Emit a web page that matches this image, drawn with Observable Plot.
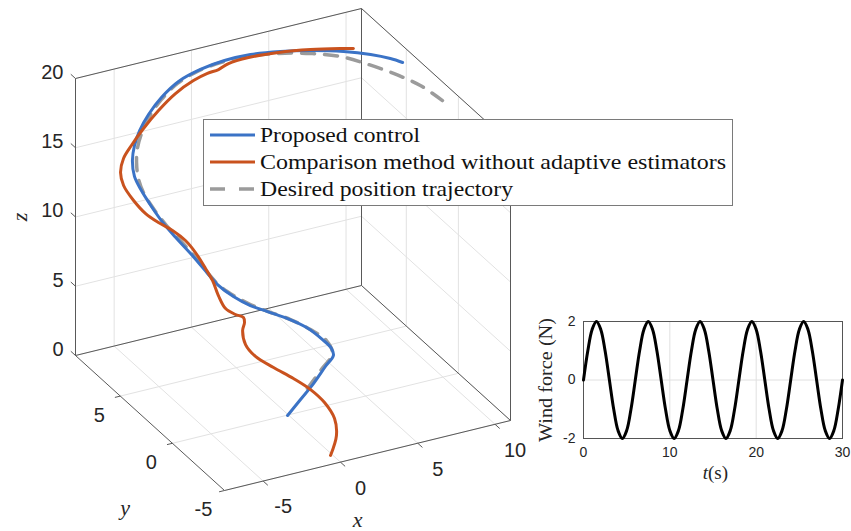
<!DOCTYPE html>
<html><head><meta charset="utf-8">
<script src="https://cdn.jsdelivr.net/npm/d3@7"></script>
<script src="https://cdn.jsdelivr.net/npm/@observablehq/plot@0.6"></script>
<style>
body{margin:0;background:#fff;}
#wrap{position:relative;width:851px;height:531px;overflow:hidden;background:#fff;}
#main,#inset{position:absolute;}
#main{left:0;top:0;}
#inset{left:530px;top:300px;}
</style></head><body>
<div id="wrap"><div id="main"></div><div id="inset"></div></div>
<script>
// ---------- data ----------
// axis limits and ticks of the 3-D view
const xLim = [-7.5, 11], yLim = [-5, 9.3], zLim = [0, 20];
const xTicks = [-5, 0, 5, 10];
const yTicks = [-5, 0, 5];
const zTicks = [0, 5, 10, 15, 20];

// desired position trajectory
const desX = [2.46, 3.36, 4.14, 3.94, 3.20, 2.20, 0.98, -0.01, -0.79, -1.53, -2.04, -2.49, -3.01, -3.58, -3.99, -4.30, -4.47, -4.36, -4.23, -3.81, -3.06, -2.12, -0.95, 0.27, 1.56, 2.96, 4.43, 5.95, 7.23, 8.11, 8.98, 9.67, 9.95];
const desY = [1.82, 1.89, 1.92, 2.19, 2.62, 3.06, 3.37, 3.63, 3.91, 4.24, 4.75, 5.31, 5.89, 6.38, 7.03, 7.53, 7.76, 8.10, 8.21, 8.44, 8.78, 9.03, 9.23, 9.13, 8.82, 8.32, 7.61, 6.70, 5.72, 4.63, 3.23, 1.68, -0.03];
const desZ = [0, 1, 2, 2.8, 3.5, 4.2, 4.9, 5.5, 6.1, 6.8, 7.6, 8.5, 9.4, 10.3, 11.2, 12.1, 13.0, 13.9, 14.8, 15.6, 16.4, 17.2, 17.9, 18.5, 19.0, 19.4, 19.7, 19.9, 20, 20, 20, 20, 20];

// proposed control
const propX = [-0.07, 1.18, 2.34, 3.44, 4.08, 3.99, 3.64, 3.04, 2.11, 1.01, 0.01, -0.89, -1.65, -2.16, -2.68, -3.25, -3.77, -4.13, -4.45, -4.63, -4.54, -4.29, -3.81, -3.08, -2.09, -0.86, 0.46, 1.80, 3.15, 4.61, 6.04, 7.67, 8.88, 9.66, 10.06];
const propY = [-0.03, 0.58, 1.06, 1.55, 1.73, 1.78, 2.12, 2.76, 3.20, 3.50, 3.66, 3.95, 4.35, 4.94, 5.41, 5.90, 6.39, 7.01, 7.50, 7.90, 8.23, 8.40, 8.62, 8.85, 9.08, 9.26, 9.12, 8.80, 8.31, 7.60, 6.83, 6.08, 5.28, 4.54, 3.96];
const propZ = [0, 0.4, 0.9, 1.5, 2.0, 2.5, 3.0, 3.6, 4.2, 4.8, 5.4, 6.1, 6.9, 7.8, 8.7, 9.6, 10.5, 11.4, 12.3, 13.1, 14.0, 14.9, 15.7, 16.5, 17.3, 18.0, 18.6, 19.1, 19.5, 19.8, 20, 20, 20, 20, 20];

// comparison method without adaptive estimators
const compX = [-0.13, 0.90, 1.37, 1.37, 1.00, 0.44, -0.27, -0.88, -1.03, -0.70, -0.39, -0.39, -0.94, -1.50, -1.68, -1.76, -1.98, -2.22, -2.60, -3.16, -3.82, -4.36, -4.78, -5.07, -5.12, -4.88, -4.37, -3.50, -2.42, -1.23, -0.05, 0.75, 1.30, 1.91, 2.96, 4.46, 6.10, 7.68, 8.34];
const compY = [-4.24, -3.28, -2.40, -1.44, -0.65, 0.16, 1.02, 1.85, 2.58, 3.35, 3.63, 3.73, 3.68, 3.80, 4.22, 4.66, 5.01, 5.62, 6.02, 6.43, 6.80, 7.23, 7.76, 8.29, 8.51, 8.58, 8.58, 8.71, 8.87, 9.01, 9.03, 8.88, 8.63, 8.58, 8.21, 7.56, 6.92, 6.39, 6.13];
const compZ = [0, 0.5, 1.0, 1.5, 2.0, 2.4, 2.8, 3.2, 3.6, 4.0, 4.3, 4.6, 5.0, 5.5, 6.2, 7.0, 7.7, 8.5, 9.2, 9.8, 10.3, 10.8, 11.5, 12.3, 13.1, 14.0, 14.8, 15.7, 16.6, 17.4, 18.0, 18.4, 18.7, 19.0, 19.4, 19.8, 20, 20, 20];

const seriesNames = ["Proposed control", "Comparison method without adaptive estimators", "Desired position trajectory"];

// wind force inset
const windT = [0,0.5,1,1.5,2,2.5,3,3.5,4,4.5,5,5.5,6,6.5,7,7.5,8,8.5,9,9.5,10,10.5,11,11.5,12,12.5,13,13.5,14,14.5,15,15.5,16,16.5,17,17.5,18,18.5,19,19.5,20,20.5,21,21.5,22,22.5,23,23.5,24,24.5,25,25.5,26,26.5,27,27.5,28,28.5,29,29.5,30];
const windF = [0,1,1.73,2,1.73,1,0,-1,-1.73,-2,-1.73,-1,
               0,1,1.73,2,1.73,1,0,-1,-1.73,-2,-1.73,-1,
               0,1,1.73,2,1.73,1,0,-1,-1.73,-2,-1.73,-1,
               0,1,1.73,2,1.73,1,0,-1,-1.73,-2,-1.73,-1,
               0,1,1.73,2,1.73,1,0,-1,-1.73,-2,-1.73,-1,
               0];
const windTTicks = [0, 10, 20, 30];
const windFTicks = [-2, 0, 2];

// ---------- 3-D projection (orthographic view) ----------
function proj(x, y, z) {
  const u = (x - xLim[0]) / (xLim[1] - xLim[0]);
  const v = (y - yLim[0]) / (yLim[1] - yLim[0]);
  const w = (z - zLim[0]) / (zLim[1] - zLim[0]);
  return [286 * u - 149 * v, 70 * u + 135 * v + 277 * w];
}
const traj = (X, Y, Z) => X.map((x, i) => { const p = proj(x, Y[i], Z[i]); return {px: p[0], py: p[1]}; });
const seg = (a, b) => { const p = proj(...a), q = proj(...b); return {x1: p[0], y1: p[1], x2: q[0], y2: q[1]}; };
const pt = (a, label) => { const p = proj(...a); return {px: p[0], py: p[1], label}; };

const [x0, x1] = xLim, [y0, y1] = yLim, [z0, z1] = zLim;
const grid = [];
for (const t of xTicks) { grid.push(seg([t, y0, z0], [t, y1, z0])); grid.push(seg([t, y1, z0], [t, y1, z1])); }
for (const t of yTicks) { grid.push(seg([x0, t, z0], [x1, t, z0])); grid.push(seg([x1, t, z0], [x1, t, z1])); }
for (const t of zTicks) { grid.push(seg([x0, y1, t], [x1, y1, t])); grid.push(seg([x1, y1, t], [x1, y0, t])); }
const edges = [
  seg([x0, y0, z0], [x1, y0, z0]), seg([x1, y0, z0], [x1, y1, z0]),
  seg([x1, y1, z0], [x0, y1, z0]), seg([x0, y1, z0], [x0, y0, z0]),
  seg([x0, y1, z0], [x0, y1, z1]), seg([x1, y1, z0], [x1, y1, z1]), seg([x1, y0, z0], [x1, y0, z1]),
  seg([x0, y1, z1], [x1, y1, z1]), seg([x1, y1, z1], [x1, y0, z1])
];
const ticks = [
  ...xTicks.map(t => seg([t, y0, z0], [t, y0 - 0.45, z0])),
  ...yTicks.map(t => seg([x0, t, z0], [x0 - 0.35, t, z0])),
  ...zTicks.map(t => seg([x0, y1, t], [x0, y1 + 0.45, t]))
];
const xLab = xTicks.map(t => pt([t, y0, z0], String(t)));
const yLab = yTicks.map(t => pt([x0, t, z0], String(t)));
const zLab = zTicks.map(t => pt([x0, y1, t], String(t)));

const sans = "Liberation Sans, Arial, Helvetica, sans-serif";
const serif = "Liberation Serif, Times New Roman, serif";
const colBlue = "#3b73c6", colRed = "#c9521e", colGray = "#9b9b9b", ink = "#262626";

const main = Plot.plot({
  width: 851, height: 531, margin: 0,
  x: {domain: [-224, 627], axis: null},
  y: {domain: [-41, 490], axis: null},
  style: {fontFamily: sans, color: ink, background: "transparent"},
  marks: [
    Plot.link(grid, {x1: "x1", y1: "y1", x2: "x2", y2: "y2", stroke: "#e2e2e2", strokeWidth: 1}),
    Plot.link(edges, {x1: "x1", y1: "y1", x2: "x2", y2: "y2", stroke: "#595959", strokeWidth: 1}),
    Plot.link(ticks, {x1: "x1", y1: "y1", x2: "x2", y2: "y2", stroke: "#595959", strokeWidth: 1}),
    Plot.text(xLab, {x: "px", y: "py", text: "label", dx: 20, dy: 26, fontSize: 20, fill: ink}),
    Plot.text(yLab, {x: "px", y: "py", text: "label", dx: -21, dy: 19, fontSize: 20, fill: ink}),
    Plot.text(zLab, {x: "px", y: "py", text: "label", dx: -12, dy: -6, textAnchor: "end", fontSize: 20, fill: ink}),
    Plot.text([pt([1.75, y0, z0], "x")], {x: "px", y: "py", text: "label", dx: -10, dy: 64, fontSize: 22, fontStyle: "italic", fontFamily: serif, fill: ink}),
    Plot.text([pt([x0, 2.15, z0], "y")], {x: "px", y: "py", text: "label", dx: -25, dy: 85, fontSize: 22, fontStyle: "italic", fontFamily: serif, fill: ink}),
    Plot.text([pt([x0, y1, 10], "z")], {x: "px", y: "py", text: "label", dx: -56, dy: 0, rotate: -90, fontSize: 22, fontStyle: "italic", fontFamily: serif, fill: ink}),
    Plot.line(traj(desX, desY, desZ), {x: "px", y: "py", stroke: colGray, strokeWidth: 3.5, strokeDasharray: "13,10", curve: "catmull-rom"}),
    Plot.line(traj(propX, propY, propZ), {x: "px", y: "py", stroke: colBlue, strokeWidth: 3, curve: "catmull-rom", strokeLinecap: "round"}),
    Plot.line(traj(compX, compY, compZ), {x: "px", y: "py", stroke: colRed, strokeWidth: 3, curve: "catmull-rom", strokeLinecap: "round"})
  ]
});
document.getElementById("main").appendChild(main);

// legend (drawn in the main svg, top-level pixel layout)
const lg = d3.select(main).append("g").attr("font-family", serif).attr("font-size", 22)
  .attr("fill", "#111").attr("text-anchor", "start");
lg.append("rect").attr("x", 203.5).attr("y", 119.5).attr("width", 529).attr("height", 86)
  .attr("fill", "#fff").attr("stroke", "#7a7a7a").attr("stroke-width", 1);
const lgStyle = [
  {stroke: colBlue, dash: "none", len: 160},
  {stroke: colRed, dash: "none", len: 466},
  {stroke: colGray, dash: "15,14", len: 253}
];
seriesNames.forEach((name, i) => {
  const cy = 135 + i * 27;
  lg.append("line").attr("x1", 210).attr("x2", 255).attr("y1", cy).attr("y2", cy)
    .attr("stroke", lgStyle[i].stroke).attr("stroke-width", i === 2 ? 3.5 : 3)
    .attr("stroke-dasharray", lgStyle[i].dash);
  lg.append("text").attr("x", 260).attr("y", cy + 7).attr("textLength", lgStyle[i].len)
    .attr("lengthAdjust", "spacingAndGlyphs").attr("text-anchor", "start").text(name);
});

// ---------- wind force inset ----------
const windData = windT.map((t, i) => ({t, f: windF[i]}));
const inset = Plot.plot({
  width: 321, height: 200,
  marginLeft: 53, marginRight: 9, marginTop: 21, marginBottom: 62,
  style: {fontFamily: sans, fontSize: "14px", color: ink, background: "transparent"},
  x: {domain: [0, 30]},
  y: {domain: [-2, 2]},
  marks: [
    Plot.gridX(windTTicks.slice(1, -1), {stroke: "#e0e0e0", strokeOpacity: 1}),
    Plot.gridY([0], {stroke: "#e0e0e0", strokeOpacity: 1}),
    Plot.axisX(windTTicks, {tickSize: 0, tickPadding: 9, tickFormat: d => String(d), label: null}),
    Plot.axisY(windFTicks, {tickSize: 0, tickPadding: 8, tickFormat: d => String(d), label: null}),
    Plot.frame({stroke: "#555", strokeWidth: 1}),
    Plot.line(windData, {x: "t", y: "f", stroke: "#000", strokeWidth: 3, curve: "catmull-rom"}),
    Plot.text(["Wind force (N)"], {frameAnchor: "left", textAnchor: "middle", dx: -38, rotate: -90, fontFamily: serif, fontSize: 19, fill: ink, className: "windlabel"}),
    Plot.text(["t"], {frameAnchor: "bottom", dx: -5, dy: 40, textAnchor: "end", fontFamily: serif, fontStyle: "italic", fontSize: 19, fill: ink}),
    Plot.text(["(s)"], {frameAnchor: "bottom", dx: -5, dy: 40, textAnchor: "start", fontFamily: serif, fontSize: 19, fill: ink})
  ]
});
d3.select(inset).selectAll(".windlabel text").attr("textLength", 124).attr("lengthAdjust", "spacingAndGlyphs");
document.getElementById("inset").appendChild(inset);
</script>
</body></html>
